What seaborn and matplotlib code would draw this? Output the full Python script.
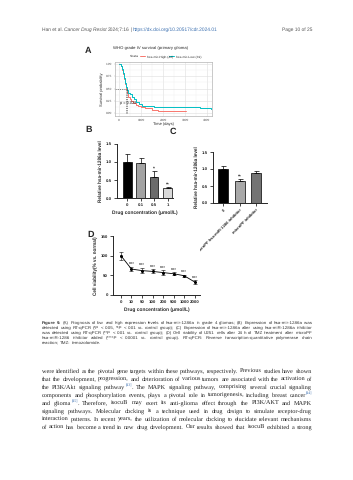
import numpy as np
import matplotlib
matplotlib.use("Agg")
import matplotlib.pyplot as plt
import seaborn as sns
from matplotlib.lines import Line2D

sns.set_style("ticks")
plt.rcParams["font.family"] = ["Liberation Sans", "DejaVu Sans"]
plt.rcParams["text.hinting"] = "no_hinting"  # keeps text widths linear in size

# =============================================================================
# DATA
# =============================================================================
# (A) Kaplan-Meier, WHO grade IV
km_high_t = [0, 80, 130, 180, 230, 280, 330, 380, 430, 480, 560, 650, 760, 880, 1000, 1200, 1500, 1750, 3050]
km_high_s = [1.0, 0.95, 0.88, 0.79, 0.69, 0.59, 0.49, 0.40, 0.33, 0.28, 0.24, 0.20, 0.17, 0.14, 0.12, 0.10, 0.07, 0.05, 0.05]
km_low_t = [0, 80, 130, 180, 230, 280, 330, 380, 430, 500, 580, 680, 780, 900, 1050, 1600, 2400, 3450, 3700, 4200, 4500]
km_low_s = [1.0, 0.96, 0.90, 0.81, 0.71, 0.62, 0.54, 0.47, 0.41, 0.38, 0.33, 0.28, 0.23, 0.18, 0.15, 0.13, 0.13, 0.13, 0.10, 0.08, 0.08]
km_labels = ["hsa-mir-High (42)", "hsa-mir-Low (39)"]
km_colors = ["#F8766D", "#00BFC4"]
km_pval = "p = 0.028"
km_median = [330, 360]

# (B) qPCR vs drug concentration
b_conc = ["0", "0.1", "0.5", "1"]
b_mean = [1.00, 0.98, 0.57, 0.27]
b_err = [0.22, 0.13, 0.18, 0.03]
b_sig = ["", "", "*", "**"]
b_colors = ["#000000", "#a3a3a3", "#6b6b6b", "#d9d9d9"]

# (C) qPCR after inhibitor
c_groups = ["0", "microPF hsa-miR-1286 inhibitor", "microPF inhibitor"]
c_mean = [1.00, 0.65, 0.87]
c_err = [0.08, 0.05, 0.08]
c_sig = ["", "**", ""]
c_colors = ["#000000", "#a8a8a8", "#747474"]

# (D) cell viability
d_conc = ["0", "10", "50", "100", "200", "500", "1000", "2000"]
d_mean = [100, 66, 62, 60, 57, 54, 49, 33]
d_err = [10, 5, 7, 5, 6, 4, 3, 4]
d_sig = ["", "****", "****", "****", "****", "****", "****", "****"]

ylab_qpcr = "Relative hsa-mir-1286a level"
xlab_drug = "Drug concentration (\u03bcmol/L)"

header_left = ["Han et al.", "Cancer Drug Resist", "2024;7:16", "|", "https://dx.doi.org/10.20517/cdr.2024.01"]
header_right = "Page 10 of 25"

caption_lines = [
    "Figure 9. (A) Prognosis of low and high expression levels of hsa-mir-1286a in grade 4 gliomas; (B) Expression of hsa-mir-1286a was",
    "detected using RT-qPCR (*P < 0.05, **P < 0.01 vs. control group); (C) Expression of hsa-mir-1286a after using hsa-miR-1286a inhibitor",
    "was detected using RT-qPCR (**P < 0.01 vs. control group); (D) Cell viability of U251 cells after 24 h of TMZ treatment after microPF",
    "hsa-miR-1286 inhibitor added (****P < 0.0001 vs. control group). RT-qPCR: Reverse transcription-quantitative polymerase chain",
    "reaction; TMZ: temozolomide.",
]
# "^[..]" marks a superscript reference
body_lines = [
    "were identified as the pivotal gene targets within these pathways, respectively. Previous studies have shown",
    "that the development, progression, and deterioration of various tumors are associated with the activation of",
    "the PI3K/Akt signaling pathway^[43]. The MAPK signaling pathway, comprising several crucial signaling",
    "components and phosphorylation events, plays a pivotal role in tumorigenesis, including breast cancer^[44]",
    "and glioma^[45]. Therefore, isocuB may exert its anti-glioma effect through the PI3K/AKT and MAPK",
    "signaling pathways. Molecular docking is a technique used in drug design to simulate receptor-drug",
    "interaction patterns. In recent years, the utilization of molecular docking to elucidate relevant mechanisms",
    "of action has become a trend in new drug development. Our results showed that isocuB exhibited a strong",
]

# =============================================================================
# FIGURE
# =============================================================================
W, H = 353, 480
fig = plt.figure(figsize=(W / 100, H / 100), dpi=100)
renderer = fig.canvas.get_renderer()
REF = 100.0  # measure text at a big size, scale down linearly
SANS = ["Liberation Sans", "DejaVu Sans"]
SERIF = ["Liberation Serif", "DejaVu Serif"]
SUP = 0.62


def box(l, t, r, b):
    return [l / W, 1 - b / H, (r - l) / W, (b - t) / H]


def width_of(s, size, family, **kw):
    if not s:
        return 0.0
    t = fig.text(0, 0, s, fontsize=REF, family=family, **kw)
    w = t.get_window_extent(renderer).width
    t.remove()
    return w * size / REF


def split_sup(word):
    # "pathway^[43]." -> [("pathway", False), ("[43]", True), (".", False)]
    if "^[" not in word:
        return [(word, False)]
    a, rest = word.split("^[", 1)
    num, tail = rest.split("]", 1)
    return [(a, False), ("[" + num + "]", True), (tail, False)]


def word_width(word, size, family, **kw):
    return sum(width_of(p, size * (SUP if sup else 1), family, **kw) for p, sup in split_sup(word))


def fit_size(lines, family, target):
    sp = width_of("a a", REF, family) - 2 * width_of("a", REF, family)
    widest = 0
    for ln in lines:
        words = ln.split(" ")
        widest = max(widest, sum(word_width(w, REF, family) for w in words) + sp * (len(words) - 1))
    return REF * target / widest


def put_line(words, y, x0, x1, size, family, color="black", justify=True, bold_n=0,
             styles=None, colors=None, sup_color="#3a6fb0"):
    styles = styles or ["normal"] * len(words)
    colors = colors or [color] * len(words)
    weights = ["bold" if i < bold_n else "normal" for i in range(len(words))]
    widths = [word_width(w, size, family, style=s, weight=wt)
              for w, s, wt in zip(words, styles, weights)]
    space = width_of("a a", size, family) - 2 * width_of("a", size, family)
    if justify and len(words) > 1:
        gap = (x1 - x0 - sum(widths)) / (len(words) - 1)
    else:
        gap = space
    x = x0
    for w, wd, s, c, wt in zip(words, widths, styles, colors, weights):
        xx = x
        for part, sup in split_sup(w):
            if not part:
                continue
            psize = size * (SUP if sup else 1)
            yy = y - (size * 0.55 if sup else 0)
            fig.text(xx / W, 1 - yy / H, part, fontsize=psize, family=family,
                     color=sup_color if sup else c, style=s, weight=wt,
                     va="baseline", ha="left")
            xx += width_of(part, psize, family, style=s, weight=wt)
        x += wd + gap


def gp_style(ax):
    sns.despine(ax=ax)
    for s in ["left", "bottom"]:
        ax.spines[s].set_linewidth(0.7)
    ax.tick_params(length=2, width=0.6, pad=1.5, labelsize=3.2)
    for lab in ax.get_xticklabels() + ax.get_yticklabels():
        lab.set_fontweight("bold")


# ---- header
hdr_size = fit_size([" ".join(header_left)], SANS, 175)
put_line(header_left, 31, 42, 0, hdr_size, SANS, justify=False,
         styles=["normal", "italic", "normal", "normal", "normal"],
         colors=["#555555", "#555555", "#555555", "#555555", "#3a6fb0"])
fig.text(312 / W, 1 - 31 / H, header_right, fontsize=hdr_size, color="#555555",
         va="baseline", ha="right")

# ---- panel letters
for lab, x, y in [("A", 88, 51), ("B", 89, 130), ("C", 173, 132), ("D", 91, 235)]:
    fig.text(x / W, 1 - y / H, lab, fontsize=6.5, weight="bold", ha="center", va="center")

# ---- (A) KM
axA = fig.add_axes(box(115, 62, 212, 116))
for t, s, c in [(km_high_t, km_high_s, km_colors[0]), (km_low_t, km_low_s, km_colors[1])]:
    sns.lineplot(x=t, y=s, drawstyle="steps-post", color=c, linewidth=0.7,
                 estimator=None, sort=False, ax=axA)
axA.plot([-200, max(km_median)], [0.5, 0.5], ls=(0, (2, 2)), color="#333333", lw=0.4)
for m in km_median:
    axA.plot([m, m], [0, 0.5], ls=(0, (2, 2)), color="#333333", lw=0.4)
axA.text(40, 0.2, km_pval, fontsize=2.8, va="center")
axA.set_xlim(-182, 4227)
axA.set_ylim(-0.061, 1.041)
axA.set_xticks([0, 1000, 2000, 3000, 4000])
axA.set_yticks([0, 0.25, 0.5, 0.75, 1.0])
axA.set_yticklabels(["0.00", "0.25", "0.50", "0.75", "1.00"])
axA.set_xticks([500, 1500, 2500, 3500], minor=True)
axA.set_yticks([0.125, 0.375, 0.625, 0.875], minor=True)
axA.grid(True, which="major", color="#dedede", lw=0.4)
axA.grid(True, which="minor", color="#efefef", lw=0.3)
for s in axA.spines.values():
    s.set_color("#b3b3b3")
    s.set_linewidth(0.5)
axA.tick_params(which="both", length=1, width=0.3, color="#b3b3b3", labelsize=2.3,
                labelcolor="#4d4d4d", pad=1)
axA.tick_params(which="minor", length=0)
axA.set_xlabel("Time (days)", fontsize=2.9, labelpad=0.5)
axA.set_ylabel("Survival probability", fontsize=2.9, labelpad=1)
fig.text(113 / W, 1 - 49 / H, "WHO grade IV survival (primary glioma)", fontsize=3.1, va="baseline")
fig.text(130 / W, 1 - 57 / H, "Strata", fontsize=2.4, va="baseline")
yl = 1 - 56 / H
fig.add_artist(Line2D([140 / W, 145 / W], [yl, yl], color=km_colors[0], lw=0.7))
fig.text(147 / W, 1 - 57 / H, km_labels[0], fontsize=2.4, va="baseline")
fig.add_artist(Line2D([169 / W, 174 / W], [yl, yl], color=km_colors[1], lw=0.7))
fig.text(175.5 / W, 1 - 57 / H, km_labels[1], fontsize=2.4, va="baseline")

# ---- (B) bars
axB = fig.add_axes(box(117, 144, 173, 198))
sns.barplot(x=b_conc, y=b_mean, hue=b_conc, palette=b_colors, legend=False, order=b_conc,
            edgecolor="black", linewidth=0.5, width=0.65, ax=axB)
axB.errorbar(range(len(b_conc)), b_mean, yerr=[[0] * len(b_err), b_err], fmt="none",
             ecolor="black", elinewidth=0.5, capsize=1.8, capthick=0.5)
for i, (m, e, s) in enumerate(zip(b_mean, b_err, b_sig)):
    if s:
        axB.text(i, m + e + 0.02, s, ha="center", va="bottom", fontsize=3.4, weight="bold")
axB.set_xlim(-0.75, 3.4)
axB.set_ylim(0, 1.5)
axB.set_yticks([0, 0.5, 1.0, 1.5])
axB.set_yticklabels(["0.0", "0.5", "1.0", "1.5"])
gp_style(axB)
axB.set_xlabel(xlab_drug, fontsize=3.5, weight="bold", labelpad=3)
axB.set_ylabel(ylab_qpcr, fontsize=3.3, weight="bold", labelpad=2)

# ---- (C) bars
axC = fig.add_axes(box(213, 152, 267, 203))
sns.barplot(x=c_groups, y=c_mean, hue=c_groups, palette=c_colors, legend=False, order=c_groups,
            edgecolor="black", linewidth=0.5, width=0.6, ax=axC)
axC.errorbar(range(len(c_groups)), c_mean, yerr=[[0] * len(c_err), c_err], fmt="none",
             ecolor="black", elinewidth=0.5, capsize=1.8, capthick=0.5)
for i, (m, e, s) in enumerate(zip(c_mean, c_err, c_sig)):
    if s:
        axC.text(i, m + e + 0.01, s, ha="center", va="bottom", fontsize=3.4, weight="bold")
axC.set_xlim(-0.6, 2.65)
axC.set_ylim(0, 1.5)
axC.set_yticks([0, 0.5, 1.0, 1.5])
axC.set_yticklabels(["0.0", "0.5", "1.0", "1.5"])
gp_style(axC)
axC.set_xticks(range(len(c_groups)))
axC.set_xticklabels(c_groups, rotation=45, ha="right", rotation_mode="anchor", fontsize=3.0, weight="bold")
axC.set_xlabel("")
axC.set_ylabel(ylab_qpcr, fontsize=3.3, weight="bold", labelpad=2)

# ---- (D) viability
axD = fig.add_axes(box(113, 236, 200, 295))
d_pos = list(range(len(d_conc)))
sns.lineplot(x=d_pos, y=d_mean, color="black", linewidth=0.6, marker="o", markersize=2.2,
             markeredgewidth=0, estimator=None, sort=False, ax=axD)
axD.errorbar(d_pos, d_mean, yerr=d_err, fmt="none", ecolor="black", elinewidth=0.4,
             capsize=1.2, capthick=0.4)
for i, (m, e, s) in enumerate(zip(d_mean, d_err, d_sig)):
    if s:
        axD.text(i, m + e + 1.5, s, ha="center", va="bottom", fontsize=2.7, weight="bold")
axD.set_xlim(-0.75, 7.5)
axD.set_ylim(0, 150)
axD.set_yticks([0, 50, 100, 150])
axD.set_xticks(d_pos)
axD.set_xticklabels(d_conc)
gp_style(axD)
axD.set_xlabel(xlab_drug, fontsize=3.5, weight="bold", labelpad=3)
axD.set_ylabel("Cell viability(% vs. normal)", fontsize=3.3, weight="bold", labelpad=2)

# ---- caption
cap_size = fit_size(caption_lines, SANS, 266)
cap_y = [324, 329, 334, 339, 344]
for i, (ln, y) in enumerate(zip(caption_lines, cap_y)):
    put_line(ln.split(" "), y, 42, 312, cap_size, SANS, "#333333",
             justify=i < len(caption_lines) - 1, bold_n=2 if i == 0 else 0)

# ---- body text
body_size = fit_size(body_lines, SERIF, 268)
body_y = [373, 381, 389, 397, 405, 413, 421, 429]
for ln, y in zip(body_lines, body_y):
    put_line(ln.split(" "), y, 42, 312, body_size, SERIF, "#222222", justify=True)

plt.savefig("out.png", dpi=100)
